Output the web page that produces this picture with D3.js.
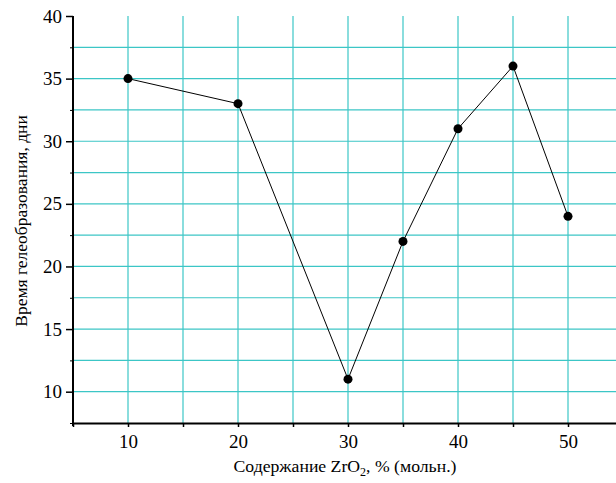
<!DOCTYPE html>
<html><head><meta charset="utf-8">
<script src="https://cdn.jsdelivr.net/npm/d3@7"></script>
<style>body{margin:0;background:#fff}svg{display:block}</style>
</head><body>
<svg id="c" width="616" height="483"></svg>
<script>
const xValues = [10, 20, 30, 35, 40, 45, 50];
const yValues = [35, 33, 11, 22, 31, 36, 24];
const xTickLabels = [10, 20, 30, 40, 50];
const yTickLabels = [10, 15, 20, 25, 30, 35, 40];
const xTitle = "Содержание ZrO";
const yTitle = "Время гелеобразования, дни";

const svg = d3.select("#c");
const x = d3.scaleLinear().domain([5, 55]).range([73, 623]);
const y = d3.scaleLinear().domain([7.5, 40]).range([423, 16]);
const grid = "#3cc6c6";
const FONT = "'Liberation Serif'";

const gx = d3.range(10, 56, 5);
const gy = d3.range(10, 40, 2.5);
svg.append("g").selectAll("line").data(gx).join("line")
  .attr("x1", d => x(d)).attr("x2", d => x(d)).attr("y1", y(40)).attr("y2", y(7.5))
  .attr("stroke", grid).attr("stroke-width", 1.2);
svg.append("g").selectAll("line").data(gy).join("line")
  .attr("x1", x(5)).attr("x2", 616).attr("y1", d => y(d)).attr("y2", d => y(d))
  .attr("stroke", grid).attr("stroke-width", 1.2);

// y axis
const yAx = svg.append("g").attr("transform", `translate(${x(5)},0)`)
  .call(d3.axisLeft(y).tickValues(yTickLabels).tickSize(7).tickPadding(4).tickFormat(d3.format("d")).tickSizeOuter(0));
yAx.selectAll(".tick text").style("font-family", FONT).style("font-size", "19px").attr("fill", "#000");
svg.append("g").attr("transform", `translate(${x(5)},0)`)
  .call(d3.axisLeft(y).tickValues(d3.range(7.5, 40, 5)).tickSize(3).tickFormat("").tickSizeOuter(0))
  .select(".domain").remove();
yAx.select(".domain").attr("stroke-width", 2).attr("d", `M0,${y(40)}V${y(7.5)+3}`);
yAx.selectAll(".tick line").attr("stroke-width", 1.5);

// x axis
const xAx = svg.append("g").attr("transform", `translate(0,${y(7.5)})`)
  .call(d3.axisBottom(x).tickValues(d3.range(5, 56, 5)).tickSize(4).tickPadding(8)
    .tickFormat(d => xTickLabels.includes(d) ? d : "").tickSizeOuter(0));
xAx.selectAll(".tick text").style("font-family", FONT).style("font-size", "19px").attr("fill", "#000");
xAx.selectAll(".tick line").attr("stroke-width", 1.5);
xAx.select(".domain").attr("stroke-width", 2);

// line + points
const pts = xValues.map((v, i) => [v, yValues[i]]);
svg.append("path").datum(pts)
  .attr("d", d3.line().x(d => x(d[0])).y(d => y(d[1])))
  .attr("fill", "none").attr("stroke", "#000").attr("stroke-width", 1);
svg.append("g").selectAll("circle").data(pts).join("circle")
  .attr("cx", d => x(d[0])).attr("cy", d => y(d[1])).attr("r", 4.5).attr("fill", "#000");

// titles
const xt = svg.append("text").attr("x", 345).attr("y", 472).attr("text-anchor", "middle")
  .style("font-family", FONT).style("font-size", "17.7px");
xt.append("tspan").text(xTitle);
xt.append("tspan").style("font-size", "12px").attr("dy", 4).text("2");
xt.append("tspan").attr("dy", -4).text(", % (мольн.)");

svg.append("text").attr("transform", "translate(27,221) rotate(-90)")
  .attr("text-anchor", "middle").style("font-family", FONT).style("font-size", "17.5px").text(yTitle);
</script>
</body></html>
